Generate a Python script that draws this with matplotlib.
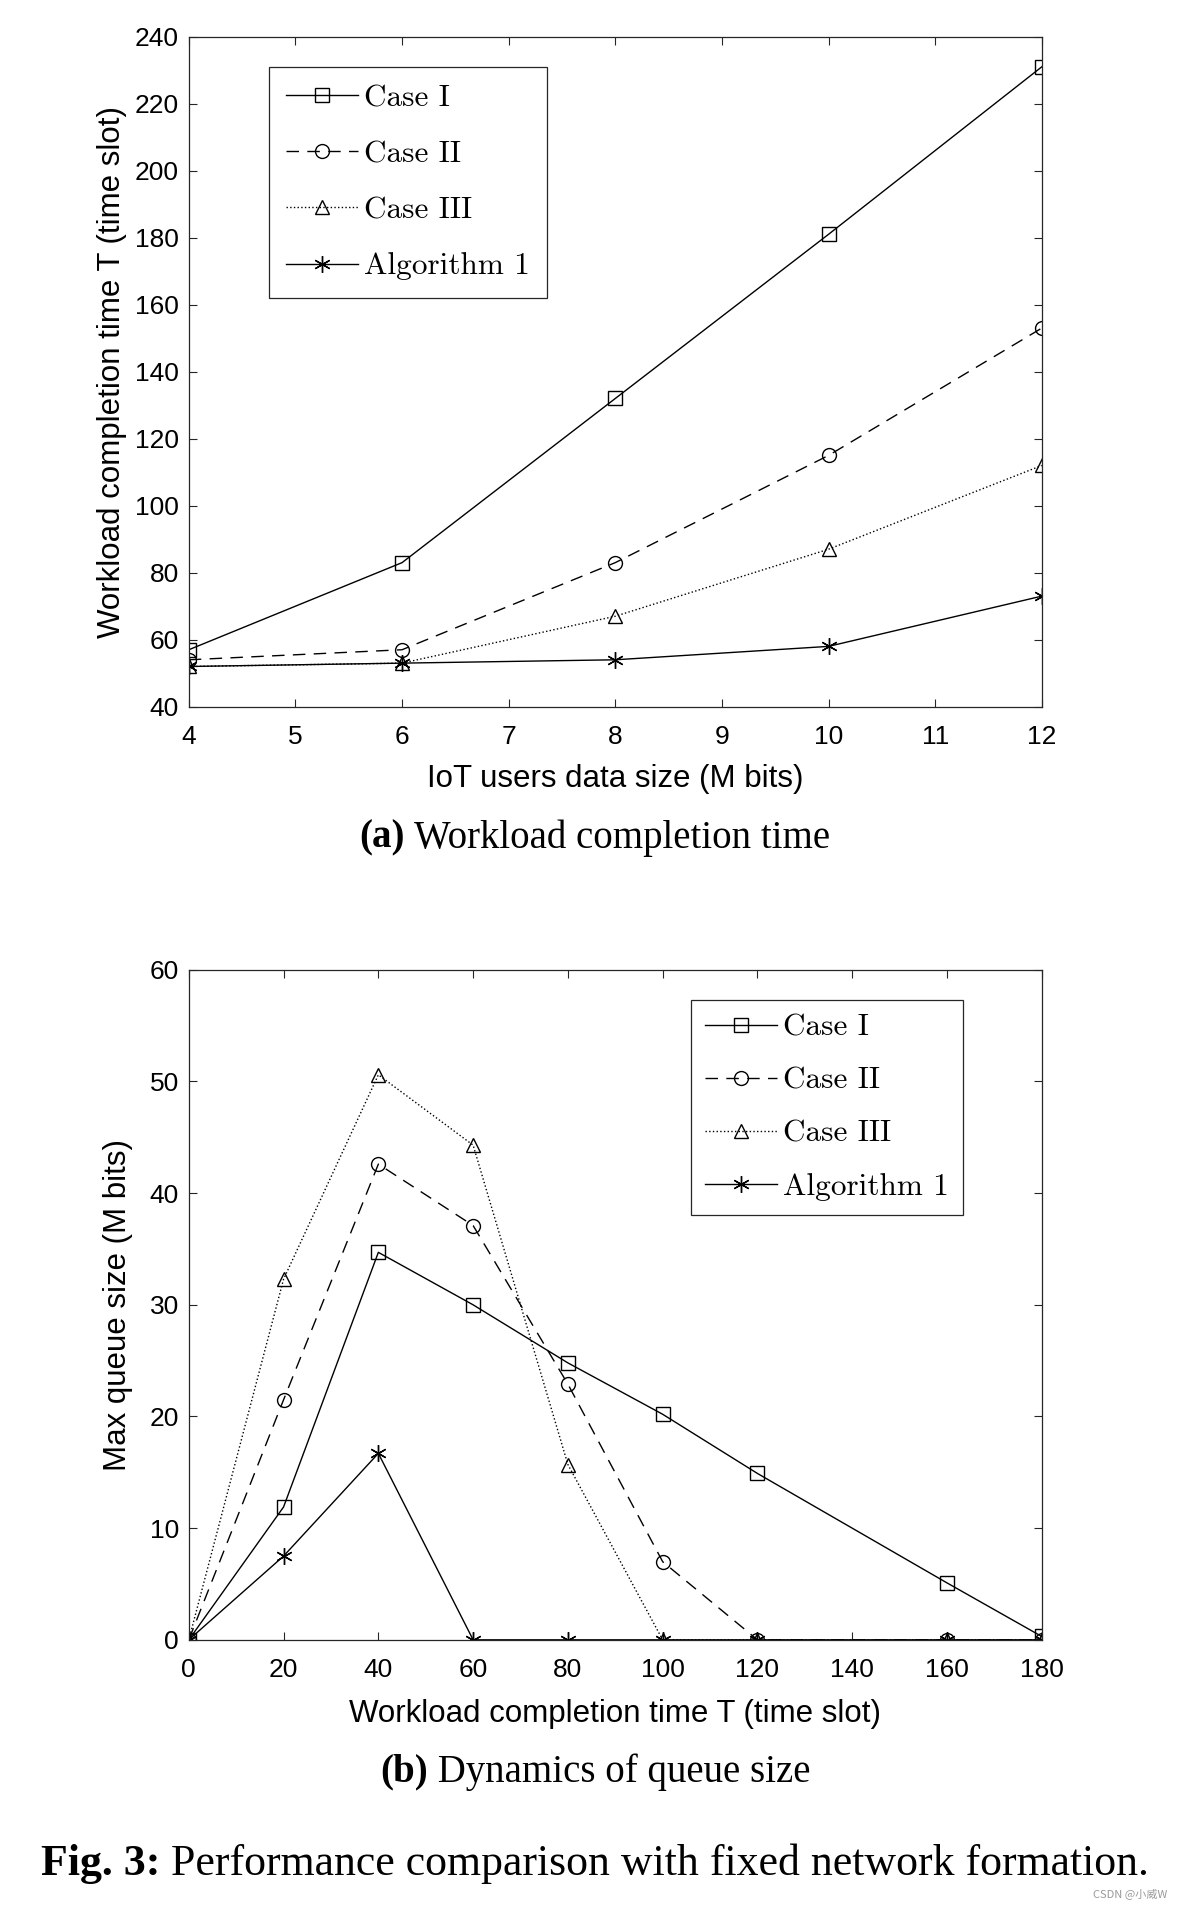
"""Fig. 3: completion time and queue dynamics, fixed network formation."""
import matplotlib
matplotlib.use("Agg")
import matplotlib.pyplot as plt

plt.rcParams["font.family"] = ["Liberation Sans", "DejaVu Sans"]
plt.rcParams["axes.unicode_minus"] = False

# (a) workload completion time vs data size
data_size = [4, 6, 8, 10, 12]
time_case1 = [57, 83, 132, 181, 231]
time_case2 = [54, 57, 83, 115, 153]
time_case3 = [52, 53, 67, 87, 112]
time_alg1 = [52, 53, 54, 58, 73]

# (b) max queue size vs completion time slot
slots = [0, 20, 40, 60, 80, 100, 120, 160, 180]
queue_case1 = [0, 11.9, 34.7, 30.0, 24.8, 20.2, 14.9, 5.1, 0.3]
queue_case2 = [0, 21.5, 42.6, 37.1, 22.9, 7.0, 0, 0, 0]
queue_case3 = [0, 32.3, 50.6, 44.3, 15.7, 0, 0, 0, 0]
queue_alg1 = [0, 7.5, 16.7, 0, 0, 0, 0, 0, 0]

labels = ["Case I", "Case II", "Case III", "Algorithm 1"]
styles = [("-", "s"), ((0, (9, 6)), "o"), (":", "^"), ("-", (6, 2, 0))]

AX_COLOR = "#262626"
TICK_SIZE = 19
LABEL_SIZE = 22.5
SERIF = "Liberation Serif"


def draw_panel(ax, x, series, legend_anchor, legend_spacing, legend_pad):
    for y, label, (ls, mk) in zip(series, labels, styles):
        ax.plot(x, y, color="black", linestyle=ls, linewidth=1.0,
                marker=mk, markersize=10 if mk != (6, 2, 0) else 12,
                markerfacecolor="none", markeredgecolor="black",
                markeredgewidth=1.0, label=label)
    for sp in ax.spines.values():
        sp.set_color(AX_COLOR)
        sp.set_linewidth(0.9)
    ax.tick_params(direction="in", length=6, width=0.8, color=AX_COLOR,
                   top=True, right=True, labelsize=TICK_SIZE, labelcolor="black")
    ax.tick_params(axis="x", pad=13)
    ax.tick_params(axis="y", pad=7)
    leg = ax.legend(loc="upper left", bbox_to_anchor=legend_anchor,
                    borderaxespad=0, fancybox=False, edgecolor=AX_COLOR,
                    framealpha=1, numpoints=1, handlelength=2.3,
                    labelspacing=legend_spacing, borderpad=legend_pad,
                    handletextpad=0.2, prop={"family": "cmr10", "size": 22.5})
    leg.get_frame().set_linewidth(0.9)


def mixed_caption(fig, y, bold, rest, size):
    """Centre a caption whose first part is bold (Times-like)."""
    renderer = fig.canvas.get_renderer()
    t1 = fig.text(0, y, bold, fontsize=size, family=SERIF, weight="bold",
                  ha="left", va="center")
    t2 = fig.text(0, y, " " + rest, fontsize=size, family=SERIF,
                  ha="left", va="center")
    w1 = t1.get_window_extent(renderer).width / fig.bbox.width
    w2 = t2.get_window_extent(renderer).width / fig.bbox.width
    x0 = 0.503 - (w1 + w2) / 2
    t1.set_x(x0)
    t2.set_x(x0 + w1)


fig = plt.figure(figsize=(11.83, 19.11), dpi=100)
ax1 = fig.add_axes([0.1596, 0.6302, 0.721, 0.3506])
ax2 = fig.add_axes([0.1596, 0.1419, 0.721, 0.3506])

draw_panel(ax1, data_size, [time_case1, time_case2, time_case3, time_alg1],
           (0.094, 0.9545), 0.9, 0.55)
ax1.set_xlim(4, 12)
ax1.set_ylim(40, 240)
ax1.set_xticks(range(4, 13))
ax1.set_yticks(range(40, 241, 20))
ax1.set_xlabel("IoT users data size (M bits)", fontsize=LABEL_SIZE, labelpad=11)
ax1.set_ylabel("Workload completion time T (time slot)", fontsize=LABEL_SIZE, labelpad=6)

draw_panel(ax2, slots, [queue_case1, queue_case2, queue_case3, queue_alg1],
           (0.589, 0.955), 0.8, 0.45)
ax2.set_xlim(0, 180)
ax2.set_ylim(0, 60)
ax2.set_xticks(range(0, 181, 20))
ax2.set_yticks(range(0, 61, 10))
ax2.set_xlabel("Workload completion time T (time slot)", fontsize=LABEL_SIZE, labelpad=12)
ax2.set_ylabel("Max queue size (M bits)", fontsize=LABEL_SIZE, labelpad=12)

mixed_caption(fig, 1 - 838 / 1911, "(a)", "Workload completion time", 28)
mixed_caption(fig, 1 - 1772 / 1911, "(b)", "Dynamics of queue size", 28)
mixed_caption(fig, 1 - 1864 / 1911, "Fig. 3:",
              "Performance comparison with fixed network formation.", 31.6)
fig.text(0.987, 1 - 1894 / 1911, "CSDN @小威W", ha="right", va="center",
         fontsize=8, color="#999999", family=["Noto Sans CJK SC", "DejaVu Sans"])

fig.savefig("out.png", dpi=100)
